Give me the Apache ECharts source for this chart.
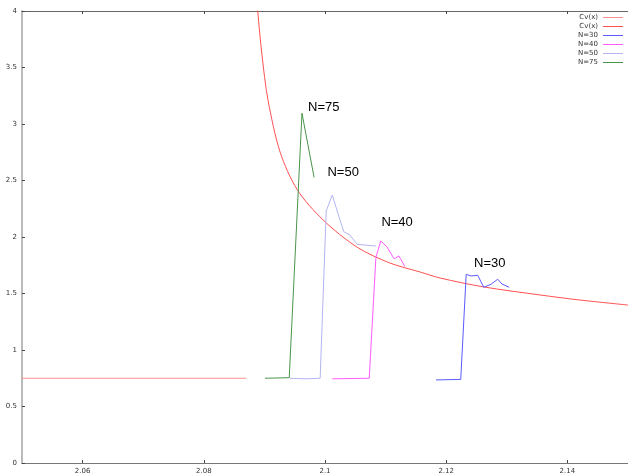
<!DOCTYPE html>
<html>
<head>
<meta charset="utf-8">
<script src="https://cdn.jsdelivr.net/npm/echarts@6/dist/echarts.min.js"></script>
<style>
	html, body { margin: 0; padding: 0; background: #fff; }
	#chart { width: 628px; height: 476px; }
</style>
</head>
<body>
<div id="chart"></div>
<script>
/* 刻度 */
const xTicks = [2.06, 2.08, 2.1, 2.12, 2.14];
const yTicks = [0, 0.5, 1, 1.5, 2, 2.5, 3, 3.5, 4];

/* 曲線 Cv(x) */
const cvFlat = [[2.05, 0.75], [2.087, 0.75]];
const cvCurve = [
	[2.0885, 4.3], [2.0889, 4.0], [2.0896, 3.61], [2.0906, 3.21], [2.0926, 2.75],
	[2.0954, 2.42], [2.0997, 2.15], [2.1053, 1.91], [2.1107, 1.77], [2.1157, 1.69],
	[2.119, 1.637], [2.1262, 1.558], [2.1355, 1.487], [2.1421, 1.442], [2.15, 1.398]
];

/* 各 N 的資料 */
const n30 = [
	[2.1183, 0.735], [2.1224, 0.74], [2.1233, 1.67], [2.1241, 1.655], [2.1252, 1.661],
	[2.1262, 1.555], [2.1274, 1.582], [2.1285, 1.626], [2.1292, 1.584], [2.1304, 1.555]
];
const n40 = [
	[2.1012, 0.745], [2.1073, 0.75], [2.1084, 1.82], [2.1092, 1.965], [2.1102, 1.915],
	[2.1114, 1.807], [2.1122, 1.832], [2.1132, 1.737]
];
const n50 = [
	[2.0942, 0.75], [2.0967, 0.745], [2.0992, 0.75], [2.1002, 2.23], [2.1012, 2.372],
	[2.1023, 2.18], [2.1031, 2.047], [2.1041, 2.018], [2.1053, 1.935], [2.1084, 1.92]
];
const n75 = [
	[2.0901, 0.75], [2.0941, 0.755], [2.0962, 3.095], [2.0982, 2.528]
];

/* 標註文字位置 */
const noteNames = ["N=75", "N=50", "N=40", "N=30"];
const notePos = [[2.0998, 3.15], [2.103, 2.575], [2.1119, 2.133], [2.1272, 1.77]];

const chart = echarts.init(document.getElementById("chart"), null, { renderer: "canvas" });

const lineSeries = (name, data, color) => ({
	type: "line",
	name: name,
	data: data,
	symbol: "none",
	showSymbol: false,
	smooth: false,
	lineStyle: { width: 1, color: color },
	itemStyle: { color: color },
	z: 3,
});

const curve = lineSeries("Cv(x) ", cvCurve, "#ff5050");
curve.smooth = 0.3;
curve.markPoint = {
	symbol: "circle",
	symbolSize: 0,
	silent: true,
	label: {
		show: true,
		position: "inside",
		color: "#000",
		fontSize: 13,
		fontFamily: "Liberation Sans",
		formatter: (p) => p.name,
	},
	data: noteNames.map((n, i) => ({ name: n, coord: notePos[i] })),
};

chart.setOption({
	animation: false,
	grid: { left: 22, right: 0, top: 11, bottom: 13 },
	legend: {
		orient: "vertical",
		align: "right",
		right: 5,
		top: 13,
		padding: 0,
		itemGap: 0,
		itemWidth: 20,
		itemHeight: 1,
		icon: "rect",
		textStyle: { fontSize: 7, lineHeight: 9, color: "#333", fontFamily: "DejaVu Sans" },
		formatter: (name) => name.trim(),
		data: ["Cv(x)", "Cv(x) ", "N=30", "N=40", "N=50", "N=75"],
	},
	xAxis: [
		{
			type: "value",
			min: 2.05,
			max: 2.15,
			position: "bottom",
			splitLine: { show: false },
			axisLine: { lineStyle: { color: "#777", width: 1 } },
			axisTick: { inside: true, length: 3, customValues: xTicks, lineStyle: { color: "#444" } },
			axisLabel: {
				fontSize: 7,
				color: "#333",
				margin: 5,
				fontFamily: "DejaVu Sans",
				customValues: xTicks,
			},
		},
		{
			type: "value",
			min: 2.05,
			max: 2.15,
			position: "top",
			splitLine: { show: false },
			axisLine: { lineStyle: { color: "#666", width: 1 } },
			axisTick: { inside: true, length: 3, customValues: xTicks, lineStyle: { color: "#444" } },
			axisLabel: { show: false },
		},
	],
	yAxis: {
		type: "value",
		min: 0,
		max: 4,
		interval: 0.5,
		splitLine: { show: false },
		axisLine: { show: true, lineStyle: { color: "#bbb", width: 2 } },
		axisTick: { show: true, inside: true, length: 3, lineStyle: { color: "#444" } },
		axisLabel: {
			fontSize: 7,
			color: "#333",
			margin: 5,
			fontFamily: "DejaVu Sans",
			formatter: (v) => (yTicks.includes(v) ? String(v) : ""),
		},
	},
	series: [
		lineSeries("Cv(x)", cvFlat, "#ff9090"),
		curve,
		lineSeries("N=30", n30, "#5a5aff"),
		lineSeries("N=40", n40, "#ff5cff"),
		lineSeries("N=50", n50, "#b4b4f0"),
		lineSeries("N=75", n75, "#4a944a"),
	],
});
</script>
</body>
</html>
